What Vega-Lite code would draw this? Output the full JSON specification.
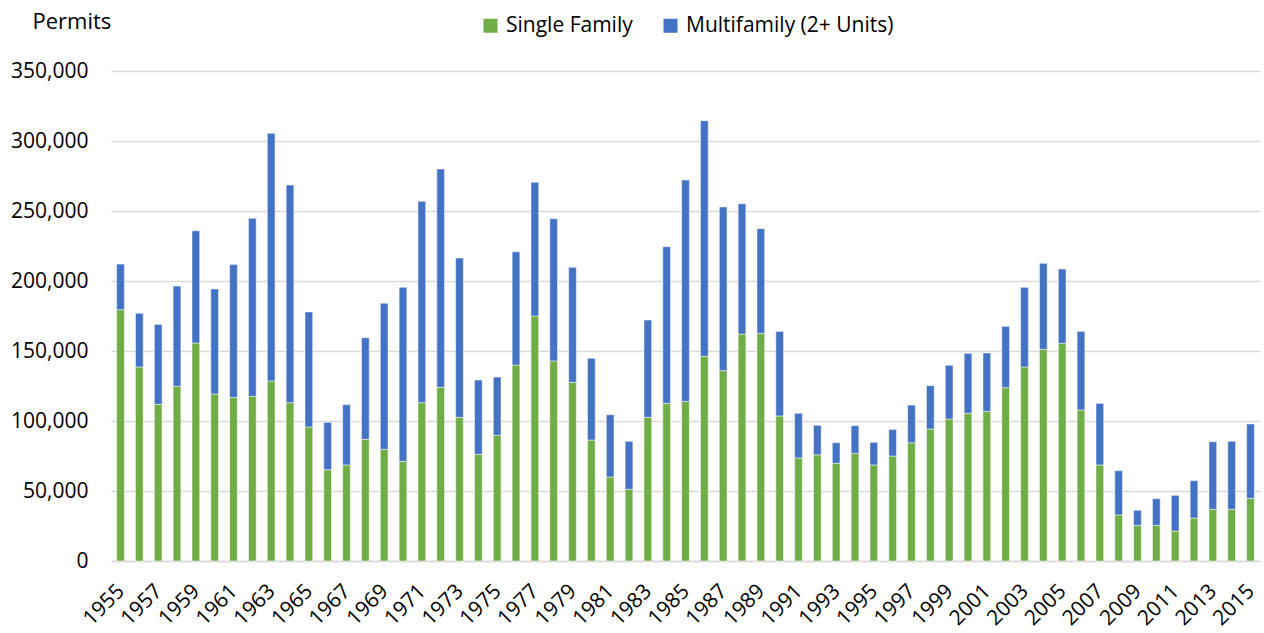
{
  "$schema": "https://vega.github.io/schema/vega-lite/v6.json",
  "width": 1149,
  "height": 490,
  "autosize": {"type": "none"},
  "padding": {"left": 111, "top": 71, "right": 4, "bottom": 72},
  "background": "white",
  "config": {
    "view": {"stroke": null},
    "font": "Open Sans"
  },
  "data": {
    "values": [
      {"year": 1955, "Single Family": 179500, "Multifamily (2+ Units)": 32600},
      {"year": 1956, "Single Family": 138600, "Multifamily (2+ Units)": 38300},
      {"year": 1957, "Single Family": 111900, "Multifamily (2+ Units)": 57100},
      {"year": 1958, "Single Family": 124800, "Multifamily (2+ Units)": 71600},
      {"year": 1959, "Single Family": 155700, "Multifamily (2+ Units)": 80200},
      {"year": 1960, "Single Family": 119300, "Multifamily (2+ Units)": 75000},
      {"year": 1961, "Single Family": 116900, "Multifamily (2+ Units)": 94800},
      {"year": 1962, "Single Family": 117600, "Multifamily (2+ Units)": 127200},
      {"year": 1963, "Single Family": 128600, "Multifamily (2+ Units)": 176900},
      {"year": 1964, "Single Family": 113100, "Multifamily (2+ Units)": 155500},
      {"year": 1965, "Single Family": 95700, "Multifamily (2+ Units)": 82200},
      {"year": 1966, "Single Family": 65200, "Multifamily (2+ Units)": 33800},
      {"year": 1967, "Single Family": 68600, "Multifamily (2+ Units)": 43100},
      {"year": 1968, "Single Family": 86900, "Multifamily (2+ Units)": 72600},
      {"year": 1969, "Single Family": 79800, "Multifamily (2+ Units)": 104300},
      {"year": 1970, "Single Family": 71200, "Multifamily (2+ Units)": 124300},
      {"year": 1971, "Single Family": 113100, "Multifamily (2+ Units)": 143800},
      {"year": 1972, "Single Family": 124100, "Multifamily (2+ Units)": 155900},
      {"year": 1973, "Single Family": 102600, "Multifamily (2+ Units)": 113800},
      {"year": 1974, "Single Family": 76200, "Multifamily (2+ Units)": 53100},
      {"year": 1975, "Single Family": 89800, "Multifamily (2+ Units)": 41600},
      {"year": 1976, "Single Family": 140000, "Multifamily (2+ Units)": 80900},
      {"year": 1977, "Single Family": 175000, "Multifamily (2+ Units)": 95500},
      {"year": 1978, "Single Family": 142900, "Multifamily (2+ Units)": 101600},
      {"year": 1979, "Single Family": 127600, "Multifamily (2+ Units)": 82200},
      {"year": 1980, "Single Family": 86400, "Multifamily (2+ Units)": 58400},
      {"year": 1981, "Single Family": 60000, "Multifamily (2+ Units)": 44500},
      {"year": 1982, "Single Family": 51200, "Multifamily (2+ Units)": 34300},
      {"year": 1983, "Single Family": 102600, "Multifamily (2+ Units)": 69500},
      {"year": 1984, "Single Family": 112600, "Multifamily (2+ Units)": 111900},
      {"year": 1985, "Single Family": 114000, "Multifamily (2+ Units)": 158100},
      {"year": 1986, "Single Family": 146200, "Multifamily (2+ Units)": 168300},
      {"year": 1987, "Single Family": 135900, "Multifamily (2+ Units)": 117000},
      {"year": 1988, "Single Family": 162100, "Multifamily (2+ Units)": 93100},
      {"year": 1989, "Single Family": 162600, "Multifamily (2+ Units)": 74800},
      {"year": 1990, "Single Family": 103600, "Multifamily (2+ Units)": 60400},
      {"year": 1991, "Single Family": 73600, "Multifamily (2+ Units)": 31900},
      {"year": 1992, "Single Family": 75900, "Multifamily (2+ Units)": 21000},
      {"year": 1993, "Single Family": 69800, "Multifamily (2+ Units)": 14700},
      {"year": 1994, "Single Family": 76900, "Multifamily (2+ Units)": 19800},
      {"year": 1995, "Single Family": 68600, "Multifamily (2+ Units)": 16200},
      {"year": 1996, "Single Family": 75000, "Multifamily (2+ Units)": 19000},
      {"year": 1997, "Single Family": 84500, "Multifamily (2+ Units)": 26900},
      {"year": 1998, "Single Family": 94300, "Multifamily (2+ Units)": 30900},
      {"year": 1999, "Single Family": 101400, "Multifamily (2+ Units)": 38400},
      {"year": 2000, "Single Family": 105500, "Multifamily (2+ Units)": 42800},
      {"year": 2001, "Single Family": 106900, "Multifamily (2+ Units)": 41700},
      {"year": 2002, "Single Family": 123800, "Multifamily (2+ Units)": 43800},
      {"year": 2003, "Single Family": 138600, "Multifamily (2+ Units)": 56900},
      {"year": 2004, "Single Family": 151200, "Multifamily (2+ Units)": 61400},
      {"year": 2005, "Single Family": 155500, "Multifamily (2+ Units)": 53100},
      {"year": 2006, "Single Family": 107900, "Multifamily (2+ Units)": 56100},
      {"year": 2007, "Single Family": 68600, "Multifamily (2+ Units)": 44000},
      {"year": 2008, "Single Family": 32900, "Multifamily (2+ Units)": 31600},
      {"year": 2009, "Single Family": 25500, "Multifamily (2+ Units)": 10700},
      {"year": 2010, "Single Family": 25500, "Multifamily (2+ Units)": 19000},
      {"year": 2011, "Single Family": 21400, "Multifamily (2+ Units)": 25500},
      {"year": 2012, "Single Family": 30700, "Multifamily (2+ Units)": 26700},
      {"year": 2013, "Single Family": 36900, "Multifamily (2+ Units)": 48300},
      {"year": 2014, "Single Family": 36900, "Multifamily (2+ Units)": 48600},
      {"year": 2015, "Single Family": 44800, "Multifamily (2+ Units)": 53100}
    ]
  },
  "transform": [
    {"fold": ["Single Family", "Multifamily (2+ Units)"], "as": ["type", "permits"]}
  ],
  "mark": {"type": "bar", "stroke": "white", "strokeWidth": 0.5},
  "encoding": {
    "x": {
      "field": "year",
      "type": "ordinal",
      "scale": {"paddingInner": 0.59, "paddingOuter": 0.3},
      "axis": {
        "title": null,
        "labelAngle": -45,
        "labelFontSize": 21,
        "labelColor": "#000000",
        "labelExpr": "(datum.value - 1955) % 2 == 0 ? datum.label : ''",
        "ticks": false,
        "labelPadding": 19,
        "labelOffset": -7,
        "domain": true,
        "domainColor": "#d9d9d9",
        "domainWidth": 1.5,
        "labelOverlap": false,
        "labelBound": false
      }
    },
    "y": {
      "field": "permits",
      "type": "quantitative",
      "stack": "zero",
      "scale": {"domain": [0, 350000], "nice": false},
      "axis": {
        "values": [0, 50000, 100000, 150000, 200000, 250000, 300000, 350000],
        "format": ",d",
        "title": "Permits",
        "titleAngle": 0,
        "titleX": -79,
        "titleY": -43,
        "titleAlign": "left",
        "titleBaseline": "alphabetic",
        "titleFontSize": 22,
        "titleFontWeight": "normal",
        "titleColor": "#000000",
        "labelFontSize": 21,
        "labelColor": "#000000",
        "labelPadding": 23,
        "ticks": false,
        "domain": false,
        "gridColor": "#d9d9d9",
        "gridWidth": 1.5
      }
    },
    "color": {
      "field": "type",
      "type": "nominal",
      "scale": {
        "domain": ["Single Family", "Multifamily (2+ Units)"],
        "range": ["#70AD47", "#4472C4"]
      },
      "legend": {
        "title": null,
        "orient": "none",
        "legendX": 369,
        "legendY": -56,
        "direction": "horizontal",
        "symbolType": "square",
        "symbolSize": 196,
        "symbolStrokeWidth": 0,
        "labelFontSize": 21,
        "labelColor": "#000000",
        "labelOffset": 5,
        "labelLimit": 0,
        "columnPadding": 27
      }
    },
    "order": {"field": "type", "sort": "descending"}
  }
}
